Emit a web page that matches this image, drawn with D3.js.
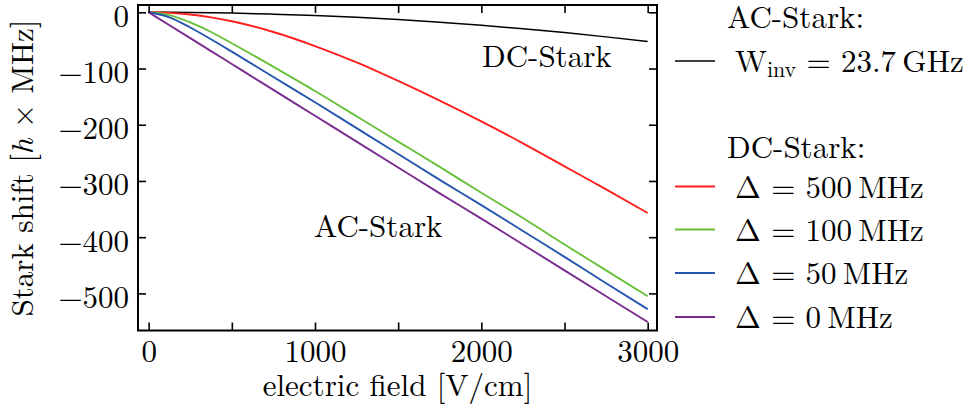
<!DOCTYPE html>
<html>
<head>
<meta charset="utf-8">
<script src="https://cdn.jsdelivr.net/npm/d3@7"></script>
<style>
  body { margin: 0; background: #fff; }
</style>
</head>
<body>
<div id="chart"></div>
<script>
// data
var fieldValues = [0, 125, 250, 375, 500, 750, 1000, 1250, 1500, 1750, 2000, 2250, 2500, 2750, 3000];
var acShift = [0, -0.1, -0.4, -0.8, -1.4, -3.3, -5.8, -9, -13, -17.7, -23.1, -29.3, -36.1, -43.7, -52];
var dc500 = [0, -1, -4, -9, -16, -35, -60, -89, -122, -157, -194, -233, -274, -315, -357];
var dc100 = [0, -5, -18, -35, -55, -97, -140, -185, -230, -275, -321, -366, -413, -459, -505];
var dc50 = [0, -9, -27, -48, -70, -115, -160, -206, -252, -298, -343, -389, -435, -482, -528];
var dc0 = [0, -23, -46, -69, -92, -138, -184, -230, -276, -322, -367, -413, -459, -505, -551];

var seriesNames = ["W_inv = 23.7\u2009GHz", "Δ = 500\u2009MHz", "Δ = 100\u2009MHz", "Δ = 50\u2009MHz", "Δ = 0\u2009MHz"];
var seriesColors = ["#000000", "#ff1f1f", "#66c03a", "#2356ad", "#7a2a8e"];
var xTicks = [0, 500, 1000, 1500, 2000, 2500, 3000];
var xTickLabels = [0, 1000, 2000, 3000];
var yTicks = [0, -100, -200, -300, -400, -500];

var svgWidth = 973;
var svgHeight = 412;
var plot = { left: 138, right: 657, top: 5, bottom: 330.5 };
var serif = "'Latin Modern Roman', 'Liberation Serif', serif";
var fontSize = "31px";

var svg = d3.select("#chart")
  .append("svg")
  .attr("width", svgWidth)
  .attr("height", svgHeight)
  .style("font-family", serif);

var x = d3.scaleLinear().domain([-64, 3056]).range([plot.left, plot.right]);
var y = d3.scaleLinear().domain([-566, 13]).range([plot.bottom, plot.top]);

//clip so curves stay in frame
svg.append("clipPath").attr("id", "clip")
  .append("rect")
  .attr("x", plot.left).attr("y", plot.top)
  .attr("width", plot.right - plot.left).attr("height", plot.bottom - plot.top);

var allSeries = [acShift, dc500, dc100, dc50, dc0];
var line = d3.line()
  .x(function (d, i) { return x(fieldValues[i]); })
  .y(function (d) { return y(d); })
  .curve(d3.curveMonotoneX);

svg.append("g").attr("clip-path", "url(#clip)")
  .selectAll("path")
  .data(allSeries)
  .enter()
  .append("path")
  .attr("d", line)
  .attr("fill", "none")
  .attr("stroke", function (d, i) { return seriesColors[i]; })
  .attr("stroke-width", function (d, i) { return i === 0 ? 1.5 : 1.9; });

//axes, ticks pointing inward
var tickFmtX = function (d) { return xTickLabels.indexOf(d) >= 0 ? d : ""; };
var bottomAxis = d3.axisBottom(x).tickValues(xTicks).tickSize(-8).tickFormat(tickFmtX);
var topAxis = d3.axisTop(x).tickValues(xTicks).tickSize(-8).tickFormat("");
var leftAxis = d3.axisLeft(y).tickValues(yTicks).tickSize(-8).tickPadding(9)
  .tickFormat(function (d) { return d < 0 ? "\u2212" + Math.abs(d) : d; });
var rightAxis = d3.axisRight(y).tickValues(yTicks).tickSize(-8).tickFormat("");

function styleAxis(g) {
  g.attr("font-family", null).attr("font-size", null);
  g.select(".domain").remove();
  g.selectAll(".tick line").attr("stroke", "#000").attr("stroke-width", 1.6);
  g.selectAll(".tick text")
    .style("font-family", serif)
    .style("font-size", fontSize).attr("fill", "#000");
}

svg.append("g").attr("transform", "translate(0," + plot.bottom + ")").call(bottomAxis).call(styleAxis)
  .selectAll(".tick text").attr("dy", 0).attr("y", 31);
svg.append("g").attr("transform", "translate(0," + plot.top + ")").call(topAxis).call(styleAxis);
svg.append("g").attr("transform", "translate(" + plot.left + ",0)").call(leftAxis).call(styleAxis)
  .selectAll(".tick text").attr("dy", 0).attr("y", 14);
svg.append("g").attr("transform", "translate(" + plot.right + ",0)").call(rightAxis).call(styleAxis);

svg.append("rect")
  .attr("x", plot.left).attr("y", plot.top)
  .attr("width", plot.right - plot.left).attr("height", plot.bottom - plot.top)
  .attr("fill", "none").attr("stroke", "#000").attr("stroke-width", 2);

function addText(xPos, yPos, str) {
  return svg.append("text")
    .attr("x", xPos).attr("y", yPos)
    .style("font-family", serif)
    .style("font-size", fontSize)
    .attr("fill", "#000")
    .text(str);
}

//axis titles
addText((plot.left + plot.right) / 2, 396, "electric field [V/cm]")
  .attr("text-anchor", "middle");

var yTitle = svg.append("text")
  .attr("transform", "translate(33,168) rotate(-90)")
  .attr("text-anchor", "middle")
  .style("font-family", serif)
  .style("font-size", fontSize);
yTitle.append("tspan").text("Stark shift [");
yTitle.append("tspan").style("font-style", "italic").text("h");
yTitle.append("tspan").text(" \u00d7 MHz]");

//labels inside the plot
addText(482, 67, "DC-Stark");
addText(314, 237, "AC-Stark");

//legend
addText(727, 28, "AC-Stark:");
addText(727, 158, "DC-Stark:");

var legendY = [61, 186.5, 229.5, 273, 317];

var legend = svg.selectAll(".lineLegend").data(seriesNames)
  .enter().append("g")
  .attr("class", "lineLegend")
  .attr("transform", function (d, i) { return "translate(675," + legendY[i] + ")"; });

legend.append("line")
  .attr("x1", 0).attr("x2", 40)
  .attr("stroke", function (d, i) { return seriesColors[i]; })
  .attr("stroke-width", function (d, i) { return i === 0 ? 1.4 : 1.9; });

legend.append("text")
  .attr("x", 60).attr("y", 11)
  .style("font-family", serif)
  .style("font-size", fontSize)
  .attr("fill", "#000")
  .each(function (d) {
    var t = d3.select(this);
    if (d.indexOf("W_inv") === 0) {
      t.append("tspan").text("W");
      t.append("tspan").attr("dy", 5).style("font-size", "22px").text("inv");
      t.append("tspan").attr("dy", -5).text(" = 23.7\u2009GHz");
    } else {
      t.text(d);
    }
  });
</script>
</body>
</html>
